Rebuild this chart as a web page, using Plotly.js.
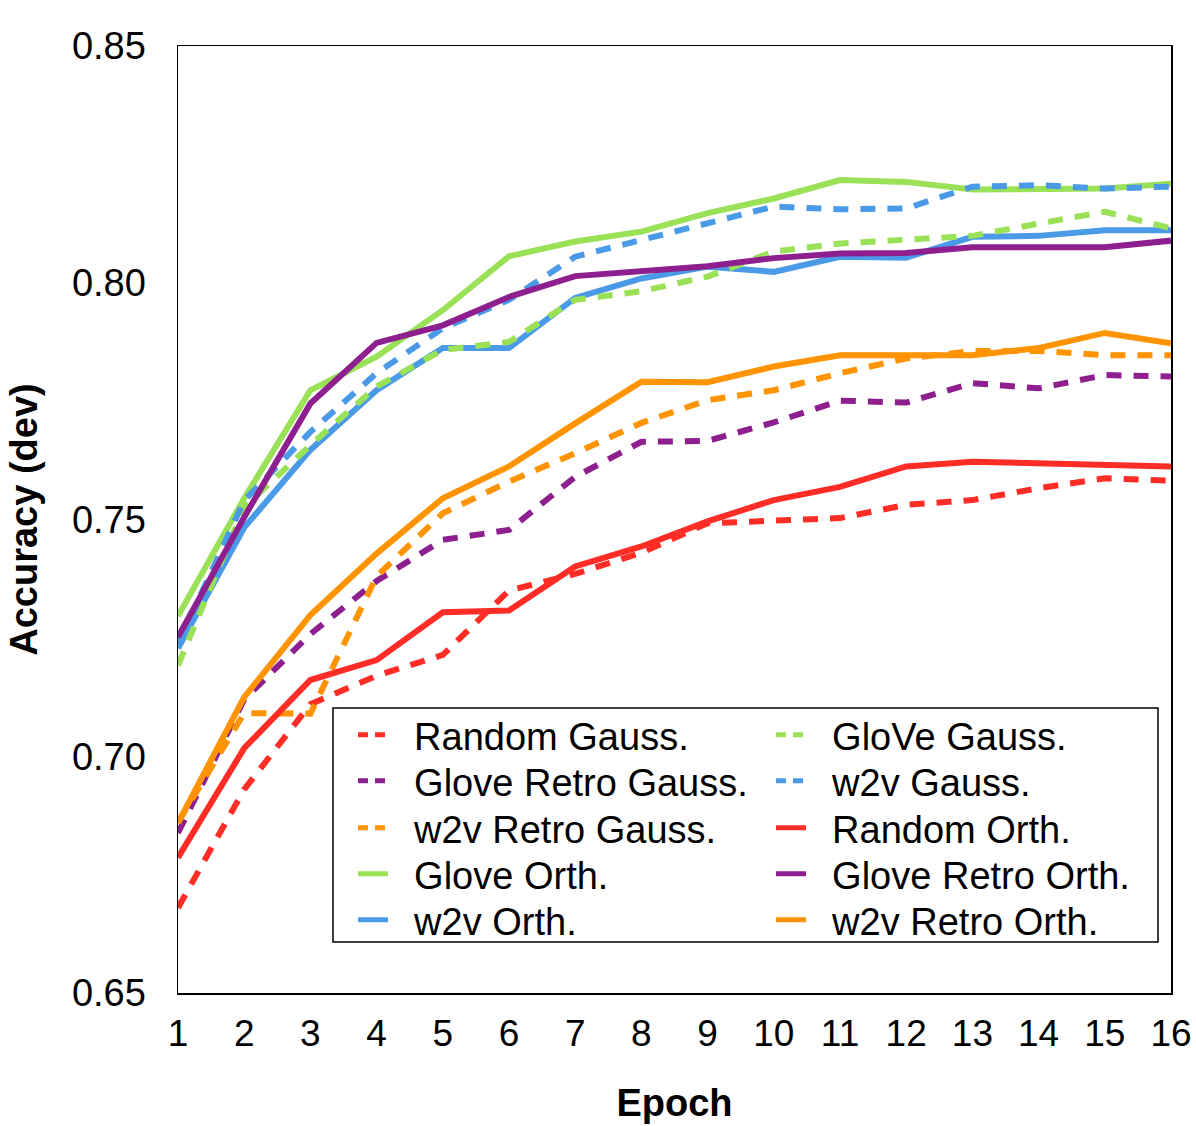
<!DOCTYPE html>
<html>
<head>
<meta charset="utf-8">
<script src="https://cdn.plot.ly/plotly-3.0.1.min.js"></script>
<style>html,body{margin:0;padding:0;background:#fff;}#chart{width:1196px;height:1126px;}</style>
</head>
<body>
<div id="chart"></div>
<script>
var epochs = [1,2,3,4,5,6,7,8,9,10,11,12,13,14,15,16];
var yTickVals = [0.65,0.70,0.75,0.80,0.85];
var yTickText = ["0.65","0.70","0.75","0.80","0.85"];

var randomGauss   = [0.668,0.693,0.711,0.717,0.7214,0.735,0.7385,0.743,0.7492,0.7496,0.7503,0.7531,0.7541,0.7566,0.7587,0.7582];
var gloveRetroGauss = [0.6838,0.712,0.7258,0.737,0.7457,0.7478,0.759,0.7664,0.7666,0.7705,0.7751,0.7747,0.7788,0.7777,0.7805,0.7802];
var w2vRetroGauss = [0.686,0.7091,0.709,0.738,0.7513,0.758,0.764,0.7704,0.7752,0.7773,0.7809,0.784,0.7856,0.7856,0.7847,0.7847];
var gloveOrth     = [0.7296,0.7545,0.7773,0.7844,0.7942,0.8056,0.8087,0.8108,0.8147,0.8178,0.8217,0.8213,0.8197,0.8197,0.8199,0.8209];
var w2vOrth       = [0.7228,0.7483,0.7647,0.7773,0.7862,0.7862,0.7968,0.8009,0.8034,0.8023,0.8055,0.8053,0.8097,0.8099,0.8111,0.8111];
var gloveGauss    = [0.7192,0.7526,0.7657,0.7781,0.7858,0.7875,0.7964,0.7982,0.8013,0.8066,0.8083,0.809,0.8099,0.8125,0.815,0.8115];
var w2vGauss      = [0.7238,0.754,0.7685,0.7809,0.7904,0.7964,0.8055,0.809,0.8125,0.8161,0.8155,0.8157,0.8203,0.8206,0.8199,0.8203];
var randomOrth    = [0.6786,0.7017,0.7161,0.7203,0.7304,0.7308,0.7401,0.7443,0.7496,0.7541,0.7569,0.7612,0.7622,0.7619,0.7618,0.7612];
var gloveRetroOrth = [0.7252,0.7505,0.7745,0.7873,0.791,0.797,0.8014,0.8023,0.8035,0.8052,0.8062,0.8063,0.8075,0.8075,0.8075,0.8089];
var w2vRetroOrth  = [0.6859,0.7125,0.7298,0.7428,0.7545,0.7612,0.7703,0.7791,0.779,0.7823,0.7847,0.7847,0.7847,0.7862,0.7894,0.7872];

var seriesNames = ['Random Gauss.','Glove Retro Gauss.','w2v Retro Gauss.','Glove Orth.','w2v Orth.',
                   'GloVe Gauss.','w2v Gauss.','Random Orth.','Glove Retro Orth.','w2v Retro Orth.'];
var seriesValues = [randomGauss, gloveRetroGauss, w2vRetroGauss, gloveOrth, w2vOrth,
                    gloveGauss, w2vGauss, randomOrth, gloveRetroOrth, w2vRetroOrth];

var RED = '#ff2d26', PURPLE = '#8e1f8f', ORANGE = '#ff9300', GREEN = '#9ae158', BLUE = '#4a9ae8';
var seriesColors = [RED, PURPLE, ORANGE, GREEN, BLUE, GREEN, BLUE, RED, PURPLE, ORANGE];
var seriesDashed = [true, true, true, false, false, true, true, false, false, false];
var PLOT_DASH = '15px,12px', LEGEND_DASH = '10px,7px';

var traces = [];
// data lines
seriesValues.forEach(function(vals, i){
  traces.push({x: epochs, y: vals, name: seriesNames[i], type: 'scatter', mode: 'lines',
    line: {color: seriesColors[i], width: 6, dash: seriesDashed[i] ? PLOT_DASH : 'solid'},
    showlegend: false, hoverinfo: 'skip'});
});
// legend entries (no data points; legend samples only)
var legendIds = ['legend','legend2','legend3','legend4','legend5','legend6','legend7','legend8','legend9','legend10'];
seriesNames.forEach(function(nm, i){
  traces.push({x: [null], y: [null], name: '\u00A0\u00A0' + nm, type: 'scatter', mode: 'lines',
    line: {color: seriesColors[i], width: 5, dash: seriesDashed[i] ? LEGEND_DASH : 'solid'},
    showlegend: true, legend: legendIds[i], hoverinfo: 'skip'});
});

var FONT = '"Liberation Sans", Arial, Helvetica, sans-serif';
var plotL = 178, plotR = 1171, plotT = 46, plotB = 993;
function px2x(p){ return (p - plotL) / (plotR - plotL); }
function px2y(p){ return (plotB - p) / (plotB - plotT); }

var rowY = [735, 781, 828, 874, 920];
var colX = [353, 771];
var layout = {
  width: 1196, height: 1126,
  margin: {l: plotL, r: 1196 - plotR, t: plotT, b: 1126 - plotB, pad: 0},
  paper_bgcolor: '#fff', plot_bgcolor: '#fff',
  font: {family: FONT, color: '#000', size: 37},
  showlegend: true,
  xaxis: {
    range: [1, 16], tickvals: epochs, ticktext: epochs.map(String),
    showgrid: false, zeroline: false, showline: true, mirror: true,
    linecolor: '#000', linewidth: 1.5, ticks: '', ticklabelstandoff: 7,
    tickfont: {size: 37, family: FONT},
    title: {text: 'Epoch', font: {size: 38, family: FONT, weight: 'bold'}, standoff: 36}
  },
  yaxis: {
    range: [0.65, 0.85], tickvals: yTickVals, ticktext: yTickText,
    showgrid: false, zeroline: false, showline: true, mirror: true,
    linecolor: '#000', linewidth: 1.5, ticks: '', ticklabelstandoff: 23,
    tickfont: {size: 38, family: FONT},
    title: {text: 'Accuracy (dev)', font: {size: 38, family: FONT, weight: 'bold'}, standoff: 22}
  },
  shapes: [{type: 'rect', xref: 'paper', yref: 'paper',
            x0: px2x(333), x1: px2x(1158), y0: px2y(942), y1: px2y(708),
            line: {color: '#000', width: 1.5}, fillcolor: 'rgba(255,255,255,0)', layer: 'above'}]
};
legendIds.forEach(function(id, i){
  var col = Math.floor(i / 5), row = i % 5;
  layout[id] = {x: px2x(colX[col]), y: px2y(rowY[row]), xanchor: 'left', yanchor: 'middle',
                bgcolor: 'rgba(0,0,0,0)', borderwidth: 0, font: {size: 38, family: FONT, color: '#000'},
                itemclick: false, itemdoubleclick: false};
});

Plotly.newPlot('chart', traces, layout, {displayModeBar: false, staticPlot: true});
</script>
</body>
</html>
